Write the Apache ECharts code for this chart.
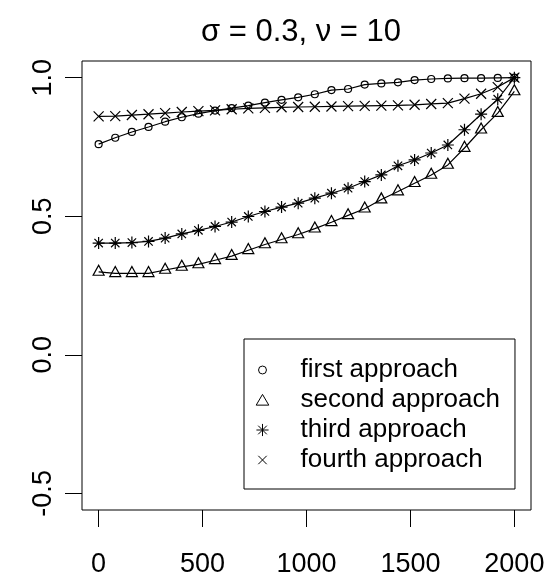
<!DOCTYPE html>
<html>
<head>
<meta charset="utf-8">
<script src="https://cdn.jsdelivr.net/npm/echarts@6/dist/echarts.min.js"></script>
<style>
  html, body { margin: 0; padding: 0; background: #fff; }
  #main { width: 556px; height: 581px; }
</style>
</head>
<body>
<div id="main"></div>
<script>
// x positions (26 points, step 80)
const xValues = [0, 80, 160, 240, 320, 400, 480, 560, 640, 720, 800, 880, 960,
  1040, 1120, 1200, 1280, 1360, 1440, 1520, 1600, 1680, 1760, 1840, 1920, 2000]

const firstApproach = [0.760, 0.783, 0.804, 0.822, 0.841, 0.857, 0.870, 0.881, 0.890, 0.899,
  0.910, 0.920, 0.929, 0.940, 0.955, 0.959, 0.975, 0.979, 0.983, 0.991, 0.995, 0.997, 0.998, 0.998, 0.999, 1.0]
const secondApproach = [0.299, 0.294, 0.294, 0.294, 0.306, 0.317, 0.326, 0.341, 0.356, 0.377,
  0.398, 0.416, 0.434, 0.455, 0.478, 0.503, 0.527, 0.560, 0.589, 0.619, 0.649, 0.685, 0.746, 0.812, 0.872, 0.950]
const thirdApproach = [0.403, 0.403, 0.405, 0.409, 0.421, 0.436, 0.449, 0.463, 0.479, 0.499,
  0.517, 0.533, 0.547, 0.565, 0.583, 0.601, 0.625, 0.649, 0.682, 0.703, 0.728, 0.757, 0.812, 0.868, 0.922, 1.0]
const fourthApproach = [0.860, 0.861, 0.865, 0.868, 0.872, 0.876, 0.879, 0.882, 0.886, 0.889,
  0.891, 0.893, 0.894, 0.895, 0.896, 0.897, 0.898, 0.899, 0.900, 0.902, 0.905, 0.908, 0.924, 0.942, 0.966, 1.0]

const xTicks = [0, 500, 1000, 1500, 2000]
const yTicks = [-0.5, 0, 0.5, 1.0]
const seriesNames = ['first approach', 'second approach', 'third approach', 'fourth approach']

const FONT = 'Liberation Sans, Arial, sans-serif'

// R style plotting characters
const asteriskPath = 'path://M6,0L6,12M0,6L12,6M1.8,1.8L10.2,10.2M10.2,1.8L1.8,10.2'
const crossPath = 'path://M0,0L12,12M12,0L0,12'
const legendIcons = [
  'path://M0,0M12,12M9.4,6A3.4,3.4,0,1,1,2.6,6A3.4,3.4,0,1,1,9.4,6Z',
  'path://M0,0M12,12M6,1.2L11.4,10.4L0.6,10.4Z',
  'path://M0,0M12,12M6,0.8L6,11.2M0.8,6L11.2,6M2.3,2.3L9.7,9.7M9.7,2.3L2.3,9.7',
  'path://M0,0M12,12M2.4,2.4L9.6,9.6M9.6,2.4L2.4,9.6'
]

function toPairs(ys) {
  return xValues.map((x, i) => [x, ys[i]])
}

function makeSeries(name, ys, symbol, size, offset) {
  return {
    name: name,
    type: 'line',
    data: toPairs(ys),
    symbol: symbol,
    symbolSize: size,
    symbolOffset: offset || [0, 0],
    showAllSymbol: true,
    animation: false,
    itemStyle: { color: 'transparent', borderColor: '#000', borderWidth: 1.2 },
    lineStyle: { color: '#000', width: 1.2 },
    emphasis: { disabled: true }
  }
}

const chartObj = echarts.init(document.getElementById('main'))

const option = {
  backgroundColor: '#fff',
  animation: false,
  title: {
    text: 'σ = 0.3, ν = 10',
    left: 301,
    top: 17,
    padding: 0,
    textAlign: 'center',
    textStyle: { fontFamily: FONT, fontSize: 31, fontWeight: 'normal', color: '#000' }
  },
  grid: {
    left: 82,
    right: 25,
    top: 61,
    bottom: 71,
    show: true,
    borderColor: '#000',
    borderWidth: 1,
    backgroundColor: 'transparent'
  },
  legend: {
    orient: 'vertical',
    left: 244,
    top: 339,
    padding: [18, 15, 16, 11],
    itemWidth: 14,
    itemHeight: 14,
    itemGap: 4,
    borderColor: '#000',
    borderWidth: 1,
    borderRadius: 0,
    backgroundColor: '#fff',
    selectedMode: false,
    itemStyle: { color: 'transparent', borderColor: '#000', borderWidth: 1 },
    textStyle: { fontFamily: FONT, fontSize: 26, color: '#000', padding: [0, 0, 0, 26] },
    data: seriesNames.map((n, i) => ({ name: n, icon: legendIcons[i] }))
  },
  xAxis: {
    type: 'value',
    min: -80,
    max: 2080,
    axisLine: { show: false, onZero: false },
    splitLine: { show: false },
    axisTick: { show: true, length: 17, customValues: xTicks, lineStyle: { color: '#000', width: 1 } },
    axisLabel: {
      customValues: xTicks,
      margin: 41,
      fontFamily: FONT,
      fontSize: 27,
      color: '#000',
      formatter: v => String(v)
    }
  },
  yAxis: {
    type: 'value',
    min: -0.56,
    max: 1.06,
    axisLine: { show: false, onZero: false },
    splitLine: { show: false },
    axisTick: { show: true, length: 17, customValues: yTicks, lineStyle: { color: '#000', width: 1 } },
    axisLabel: {
      customValues: yTicks,
      rotate: 90,
      margin: 25,
      align: 'center',
      verticalAlign: 'bottom',
      fontFamily: FONT,
      fontSize: 27,
      color: '#000',
      formatter: v => v.toFixed(1)
    }
  },
  series: [
    makeSeries(seriesNames[0], firstApproach, 'circle', 7),
    makeSeries(seriesNames[1], secondApproach, 'triangle', [11, 10], [0, -1.7]),
    makeSeries(seriesNames[2], thirdApproach, asteriskPath, 12),
    makeSeries(seriesNames[3], fourthApproach, crossPath, 10)
  ]
}

chartObj.setOption(option, true)
</script>
</body>
</html>
